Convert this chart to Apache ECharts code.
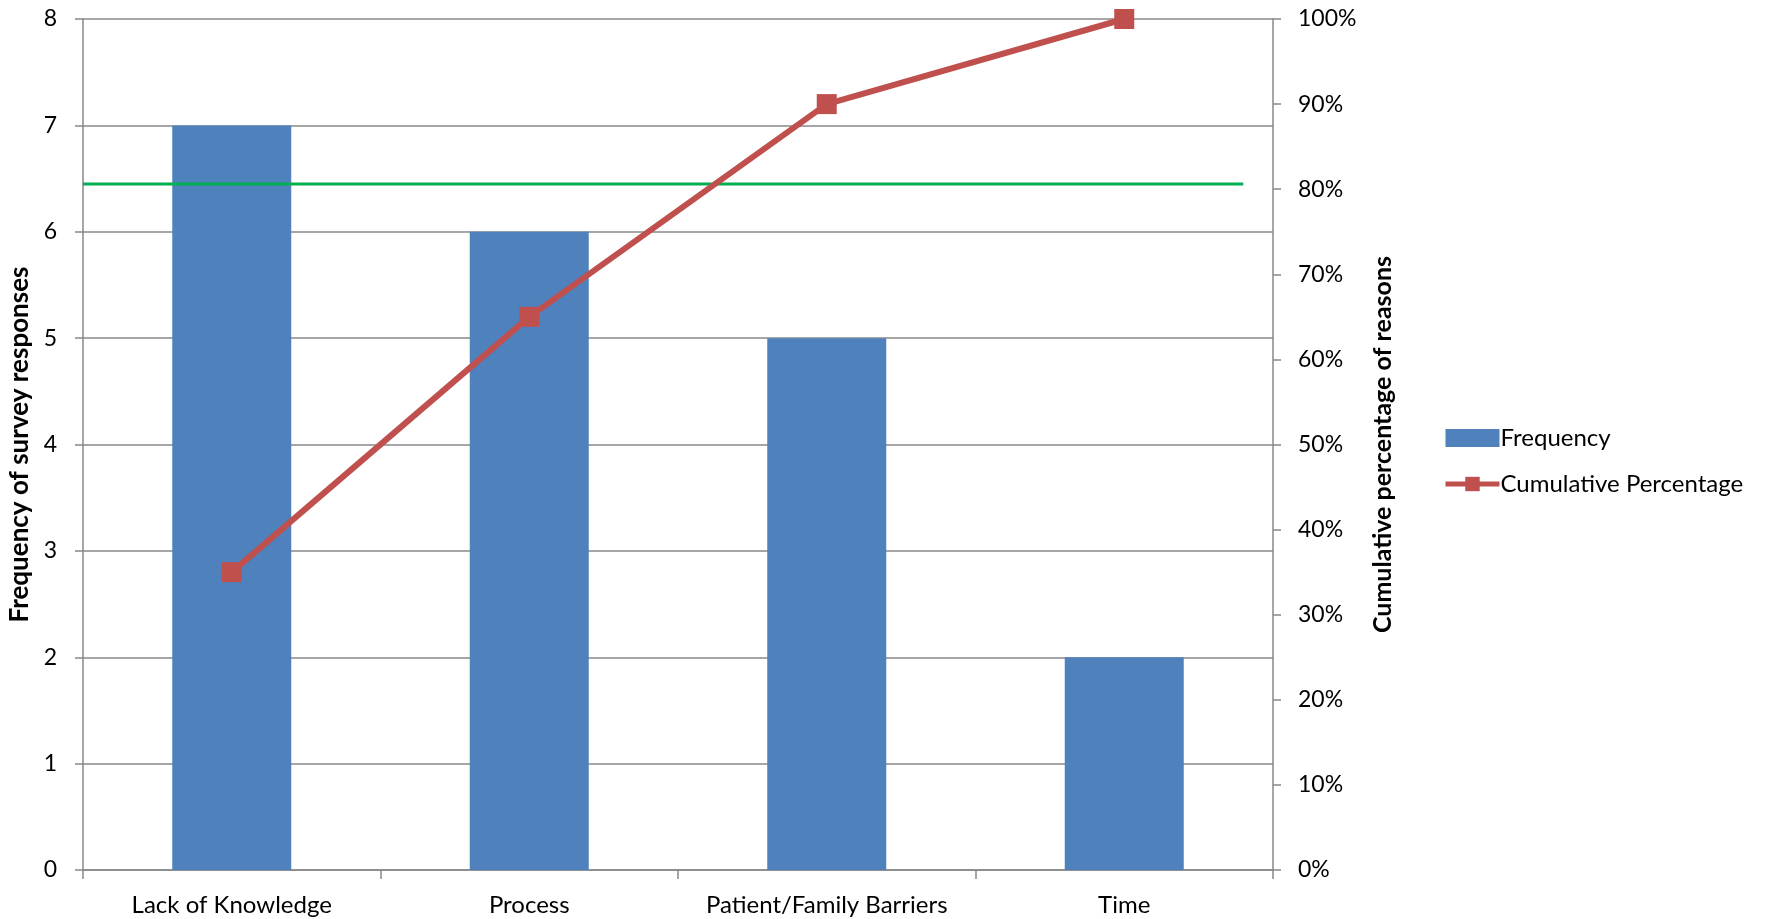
<!DOCTYPE html>
<html>
<head>
<meta charset="utf-8">
<script src="https://cdn.jsdelivr.net/npm/echarts@6/dist/echarts.min.js"></script>
<style>
html,body{margin:0;padding:0;background:#fff;}
#chart{width:1770px;height:919px;}
</style>
</head>
<body>
<div id="chart"></div>
<script>
const categories = ['Lack of Knowledge', 'Process', 'Patient/Family Barriers', 'Time'];
const frequency = [7, 6, 5, 2];
const cumulativePct = [35, 65, 90, 100];
const thresholdLine = [[0, 80.6], [3.9, 80.6]];
const leftTicks = [0, 1, 2, 3, 4, 5, 6, 7, 8];
const rightTicks = [0, 10, 20, 30, 40, 50, 60, 70, 80, 90, 100];

const FONT = 'Lato';
const AXIS_GRAY = '#888888';

const chart = echarts.init(document.getElementById('chart'), null, {renderer: 'canvas'});
chart.setOption({
  backgroundColor: '#ffffff',
  animation: false,
  textStyle: {fontFamily: FONT},
  grid: {left: 83, right: 497, top: 19, bottom: 49, containLabel: false, outerBoundsMode: 'none'},
  legend: {
    orient: 'vertical',
    left: 1438,
    top: 421,
    itemWidth: 54,
    itemHeight: 18,
    itemGap: 22,
    lineStyle: {width: 5},
    textStyle: {fontFamily: FONT, fontSize: 24, color: '#000', padding: [0, 0, 0, -4]},
    data: [
      {name: 'Frequency', icon: 'rect', itemStyle: {borderWidth: 0}},
      {name: 'Cumulative Percentage'}
    ]
  },
  xAxis: [
    {
      type: 'category',
      data: categories,
      axisLine: {lineStyle: {color: AXIS_GRAY, width: 1.5}},
      axisTick: {show: true, interval: 0, length: 9, inside: false, alignWithLabel: false, lineStyle: {color: AXIS_GRAY, width: 1.5}},
      axisLabel: {interval: 0, color: '#000', fontSize: 24, fontFamily: FONT, margin: 23},
      splitLine: {show: false}
    },
    {
      type: 'value',
      min: 0,
      max: 4,
      show: false,
      splitLine: {show: false}
    }
  ],
  yAxis: [
    {
      type: 'value',
      min: 0,
      max: 8,
      interval: 1,
      name: 'Frequency of survey responses',
      nameLocation: 'middle',
      nameRotate: 90,
      nameGap: 48,
      nameTextStyle: {fontFamily: FONT, fontSize: 26, fontWeight: 'bold', color: '#000'},
      axisLine: {show: true, lineStyle: {color: AXIS_GRAY, width: 1.5}},
      axisTick: {show: true, length: 8, lineStyle: {color: AXIS_GRAY, width: 1.5}},
      axisLabel: {color: '#000', fontSize: 23, fontFamily: FONT, margin: 26,
        formatter: v => leftTicks.includes(v) ? String(v) : ''},
      splitLine: {show: true, lineStyle: {color: AXIS_GRAY, width: 1.5}}
    },
    {
      type: 'value',
      min: 0,
      max: 100,
      interval: 10,
      position: 'right',
      name: 'Cumulative percentage of reasons',
      nameLocation: 'middle',
      nameRotate: 90,
      nameGap: 97,
      nameTextStyle: {fontFamily: FONT, fontSize: 25, fontWeight: 'bold', color: '#000'},
      axisLine: {show: true, lineStyle: {color: AXIS_GRAY, width: 1.5}},
      axisTick: {show: true, length: 8, lineStyle: {color: AXIS_GRAY, width: 1.5}},
      axisLabel: {color: '#000', fontSize: 23, fontFamily: FONT, margin: 25,
        formatter: v => rightTicks.includes(v) ? v + '%' : ''},
      splitLine: {show: false}
    }
  ],
  series: [
    {
      name: 'Frequency',
      type: 'bar',
      data: frequency,
      barWidth: '40%',
      itemStyle: {color: '#4F81BD'},
      xAxisIndex: 0,
      yAxisIndex: 0,
      z: 2
    },
    {
      name: 'Cumulative Percentage',
      type: 'line',
      data: cumulativePct,
      xAxisIndex: 0,
      yAxisIndex: 1,
      symbol: 'rect',
      symbolSize: 20,
      lineStyle: {color: '#C0504D', width: 6},
      itemStyle: {color: '#C0504D'},
      z: 4
    },
    {
      name: 'threshold',
      type: 'line',
      data: thresholdLine,
      xAxisIndex: 1,
      yAxisIndex: 1,
      symbol: 'none',
      lineStyle: {color: '#00B050', width: 3},
      silent: true,
      z: 3
    }
  ]
});
</script>
</body>
</html>
